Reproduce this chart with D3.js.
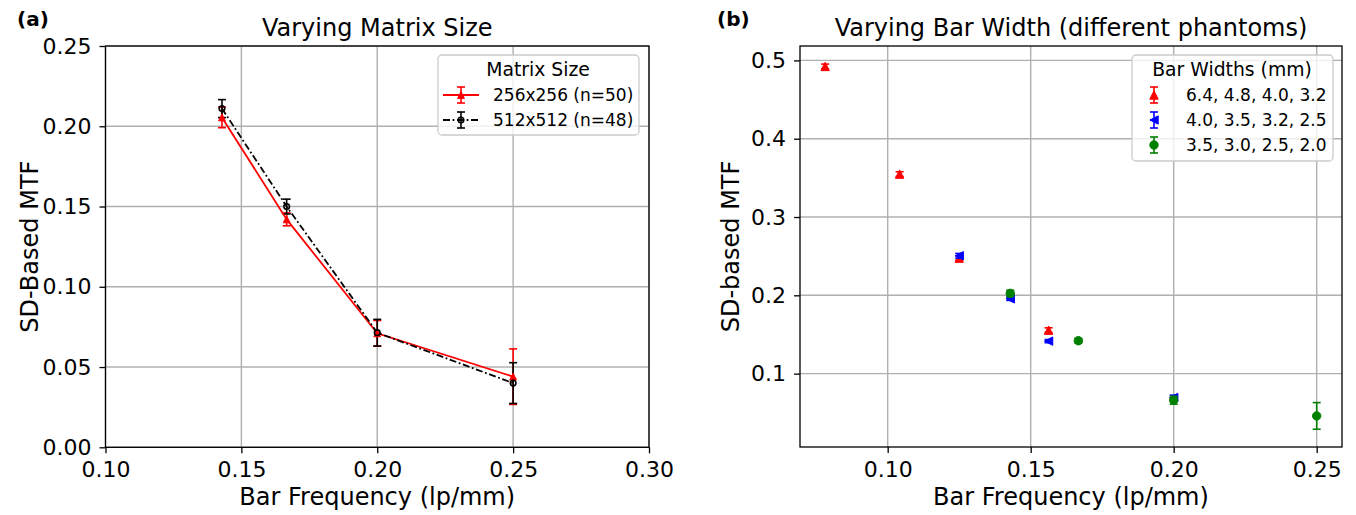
<!DOCTYPE html>
<html>
<head>
<meta charset="utf-8">
<script src="https://cdn.jsdelivr.net/npm/d3@7"></script>
<style>
  body { margin: 0; background: #fff; }
  svg { font-family: "DejaVu Sans", sans-serif; }
</style>
</head>
<body>
<div id="chart"></div>
<script>
// Panel (a): varying matrix size
var freqA = [1 / 7, 1 / 6, 0.2, 0.25];
var mtf256 = [0.2055, 0.142, 0.071, 0.044];
var err256 = [0.0064, 0.004, 0.008, 0.0173];
var mtf512 = [0.211, 0.150, 0.0714, 0.040];
var err512 = [0.0056, 0.0046, 0.0083, 0.0127];
var seriesA = ["256x256 (n=50)", "512x512 (n=48)"];
var xTicksA = [0.10, 0.15, 0.20, 0.25, 0.30];
var yTicksA = [0.00, 0.05, 0.10, 0.15, 0.20, 0.25];

// Panel (b): varying bar width, frequency = 1 / (2 * width)
var widthsRed = [6.4, 4.8, 4.0, 3.2];
var widthsBlue = [4.0, 3.5, 3.2, 2.5];
var widthsGreen = [3.5, 3.0, 2.5, 2.0];
var mtfRed = [0.4923, 0.3548, 0.2475, 0.1555];
var errRed = [0.003, 0.003, 0.003, 0.003];
var mtfBlue = [0.2505, 0.1955, 0.1415, 0.0695];
var errBlue = [0.003, 0.002, 0.002, 0.003];
var mtfGreen = [0.2025, 0.1420, 0.0660, 0.0460];
var errGreen = [0.004, 0.003, 0.005, 0.017];
var seriesB = ["6.4, 4.8, 4.0, 3.2", "4.0, 3.5, 3.2, 2.5", "3.5, 3.0, 2.5, 2.0"];
var xTicksB = [0.10, 0.15, 0.20, 0.25];
var yTicksB = [0.1, 0.2, 0.3, 0.4, 0.5];

var W = 1356, H = 515;
var tickFont = "22px", labelFont = "24px", legendFont = "17px", legendTitleFont = "18.8px";
var gridColor = "#b0b0b0";

var svg = d3.select("#chart").append("svg")
    .attr("width", W)
    .attr("height", H);

function toFreq(w) { return 1 / (2 * w); }

function buildPanel(opt) {
    var x = d3.scaleLinear().domain(opt.xDomain).range([opt.left, opt.right]);
    var y = d3.scaleLinear().domain(opt.yDomain).range([opt.bottom, opt.top]);
    var g = svg.append("g");

    // grid
    g.append("g").selectAll("line.gx")
        .data(opt.xTicks).enter().append("line")
        .attr("x1", d => x(d)).attr("x2", d => x(d))
        .attr("y1", opt.top).attr("y2", opt.bottom)
        .style("stroke", gridColor).style("stroke-width", 1.4);
    g.append("g").selectAll("line.gy")
        .data(opt.yTicks).enter().append("line")
        .attr("y1", d => y(d)).attr("y2", d => y(d))
        .attr("x1", opt.left).attr("x2", opt.right)
        .style("stroke", gridColor).style("stroke-width", 1.4);

    // axes
    var xa = g.append("g")
        .attr("transform", "translate(0," + opt.bottom + ")")
        .call(d3.axisBottom(x).tickValues(opt.xTicks).tickFormat(d3.format(opt.xFmt))
            .tickSize(6).tickSizeOuter(0).tickPadding(8));
    var ya = g.append("g")
        .attr("transform", "translate(" + opt.left + ",0)")
        .call(d3.axisLeft(y).tickValues(opt.yTicks).tickFormat(d3.format(opt.yFmt))
            .tickSize(6).tickSizeOuter(0).tickPadding(8));
    [xa, ya].forEach(function (a) {
        a.select(".domain").remove();
        a.selectAll("line").style("stroke", "#000").style("stroke-width", 1.3);
        a.selectAll("text").style("font-size", tickFont).style("fill", "#000")
            .attr("font-family", "DejaVu Sans");
    });

    // frame
    g.append("rect")
        .attr("x", opt.left).attr("y", opt.top)
        .attr("width", opt.right - opt.left).attr("height", opt.bottom - opt.top)
        .style("fill", "none").style("stroke", "#000").style("stroke-width", 1.3);

    // labels
    g.append("text")
        .attr("x", (opt.left + opt.right) / 2).attr("y", 36)
        .attr("text-anchor", "middle").style("font-size", labelFont)
        .text(opt.title);
    g.append("text")
        .attr("x", (opt.left + opt.right) / 2).attr("y", 505)
        .attr("text-anchor", "middle").style("font-size", labelFont)
        .text("Bar Frequency (lp/mm)");
    g.append("text")
        .attr("transform", "translate(" + opt.yLabelX + "," + (opt.top + opt.bottom) / 2 + ") rotate(-90)")
        .attr("text-anchor", "middle").style("font-size", labelFont)
        .text(opt.yLabel);
    g.append("text")
        .attr("x", opt.tagX).attr("y", 26)
        .style("font-size", "20px").style("font-weight", "bold")
        .text(opt.tag);

    return { g: g, x: x, y: y };
}

function errorBars(p, xs, ys, es, color, cap) {
    var pts = xs.map((d, i) => ({ x: d, y: ys[i], e: es[i] }));
    var eg = p.g.append("g").style("stroke", color).style("stroke-width", 1.6);
    eg.selectAll("line.v").data(pts).enter().append("line")
        .attr("x1", d => p.x(d.x)).attr("x2", d => p.x(d.x))
        .attr("y1", d => p.y(d.y - d.e)).attr("y2", d => p.y(d.y + d.e));
    eg.selectAll("line.t").data(pts).enter().append("line")
        .attr("x1", d => p.x(d.x) - cap).attr("x2", d => p.x(d.x) + cap)
        .attr("y1", d => p.y(d.y + d.e)).attr("y2", d => p.y(d.y + d.e));
    eg.selectAll("line.b").data(pts).enter().append("line")
        .attr("x1", d => p.x(d.x) - cap).attr("x2", d => p.x(d.x) + cap)
        .attr("y1", d => p.y(d.y - d.e)).attr("y2", d => p.y(d.y - d.e));
    return pts;
}

function triangle(dir, r) {
    if (dir === "up") return "M0," + (-r) + "L" + r + "," + r + "L" + (-r) + "," + r + "Z";
    return "M" + (-r) + ",0L" + r + "," + (-r) + "L" + r + "," + r + "Z";
}

function markers(g, pts, shape, color, r, hollow) {
    var sel = g.append("g").selectAll("path").data(pts).enter();
    if (shape === "circle") {
        sel.append("circle")
            .attr("cx", d => d.px).attr("cy", d => d.py).attr("r", r)
            .style("fill", hollow ? "none" : color)
            .style("stroke", color).style("stroke-width", hollow ? 1.6 : 1);
    } else {
        sel.append("path")
            .attr("d", triangle(shape, r))
            .attr("transform", d => "translate(" + d.px + "," + d.py + ")")
            .style("fill", color).style("stroke", color).style("stroke-width", 1);
    }
}

// ---------- panel (a) ----------
var pa = buildPanel({
    left: 105.5, right: 649, top: 46, bottom: 447.3,
    xDomain: [0.10, 0.30], yDomain: [0, 0.25],
    xTicks: xTicksA, yTicks: yTicksA, xFmt: ".2f", yFmt: ".2f",
    title: "Varying Matrix Size", yLabel: "SD-Based MTF", yLabelX: 38,
    tag: "(a)", tagX: 17
});

var line = d3.line().x(d => pa.x(d.x)).y(d => pa.y(d.y));
var pA1 = errorBars(pa, freqA, mtf256, err256, "#ff0000", 4);
var pA2 = errorBars(pa, freqA, mtf512, err512, "#000000", 4);
pa.g.append("path").datum(pA1).attr("d", line)
    .style("fill", "none").style("stroke", "#ff0000").style("stroke-width", 1.8);
pa.g.append("path").datum(pA2).attr("d", line)
    .style("fill", "none").style("stroke", "#000").style("stroke-width", 1.8)
    .style("stroke-dasharray", "7,2.6,1.8,2.6");
pA1.forEach(d => { d.px = pa.x(d.x); d.py = pa.y(d.y); });
pA2.forEach(d => { d.px = pa.x(d.x); d.py = pa.y(d.y); });
markers(pa.g, pA1, "up", "#ff0000", 3.4);
markers(pa.g, pA2, "circle", "#000", 2.8, true);

// legend (a)
var lga = pa.g.append("g");
lga.append("rect").attr("x", 438).attr("y", 55).attr("width", 201).attr("height", 80)
    .attr("rx", 4).style("fill", "#fff").style("fill-opacity", 0.8)
    .style("stroke", "#cccccc").style("stroke-width", 1.3);
lga.append("text").attr("x", 538).attr("y", 76).attr("text-anchor", "middle")
    .style("font-size", legendTitleFont).text("Matrix Size");
var legA = [
    { name: seriesA[0], color: "#ff0000", dash: null, shape: "up", y: 95 },
    { name: seriesA[1], color: "#000", dash: "7,2.6,1.8,2.6", shape: "circle", y: 120 }
];
legA.forEach(function (s) {
    lga.append("line").attr("x1", 443).attr("x2", 479).attr("y1", s.y).attr("y2", s.y)
        .style("stroke", s.color).style("stroke-width", 1.8)
        .style("stroke-dasharray", s.dash);
    var eb = lga.append("g").style("stroke", s.color).style("stroke-width", 1.6);
    eb.append("line").attr("x1", 461).attr("x2", 461).attr("y1", s.y - 8).attr("y2", s.y + 8);
    eb.append("line").attr("x1", 457).attr("x2", 465).attr("y1", s.y - 8).attr("y2", s.y - 8);
    eb.append("line").attr("x1", 457).attr("x2", 465).attr("y1", s.y + 8).attr("y2", s.y + 8);
    markers(lga, [{ px: 461, py: s.y }], s.shape, s.color, s.shape === "circle" ? 2.8 : 3.4, s.shape === "circle");
    lga.append("text").attr("x", 493).attr("y", s.y + 6)
        .style("font-size", legendFont).text(s.name);
});

// ---------- panel (b) ----------
var pb = buildPanel({
    left: 800, right: 1342, top: 46, bottom: 447,
    xDomain: [0.06934, 0.25885], yDomain: [0.0063, 0.5184],
    xTicks: xTicksB, yTicks: yTicksB, xFmt: ".2f", yFmt: ".1f",
    title: "Varying Bar Width (different phantoms)", yLabel: "SD-based MTF", yLabelX: 739,
    tag: "(b)", tagX: 717
});

var groupsB = [
    { widths: widthsRed, vals: mtfRed, errs: errRed, color: "#ff0000", shape: "up" },
    { widths: widthsBlue, vals: mtfBlue, errs: errBlue, color: "#0000ff", shape: "left" },
    { widths: widthsGreen, vals: mtfGreen, errs: errGreen, color: "#008000", shape: "circle" }
];
groupsB.forEach(function (gr) {
    var pts = errorBars(pb, gr.widths.map(toFreq), gr.vals, gr.errs, gr.color, 4);
    pts.forEach(d => { d.px = pb.x(d.x); d.py = pb.y(d.y); });
    markers(pb.g, pts, gr.shape, gr.color, 4.2);
});

// legend (b)
var lgb = pb.g.append("g");
lgb.append("rect").attr("x", 1132).attr("y", 55).attr("width", 201).attr("height", 106)
    .attr("rx", 4).style("fill", "#fff").style("fill-opacity", 0.8)
    .style("stroke", "#cccccc").style("stroke-width", 1.3);
lgb.append("text").attr("x", 1232).attr("y", 76).attr("text-anchor", "middle")
    .style("font-size", legendTitleFont).text("Bar Widths (mm)");
groupsB.forEach(function (gr, i) {
    var yy = 95 + i * 25;
    var eb = lgb.append("g").style("stroke", gr.color).style("stroke-width", 1.6);
    eb.append("line").attr("x1", 1154).attr("x2", 1154).attr("y1", yy - 8).attr("y2", yy + 8);
    eb.append("line").attr("x1", 1150).attr("x2", 1158).attr("y1", yy - 8).attr("y2", yy - 8);
    eb.append("line").attr("x1", 1150).attr("x2", 1158).attr("y1", yy + 8).attr("y2", yy + 8);
    markers(lgb, [{ px: 1154, py: yy }], gr.shape, gr.color, 4.2);
    lgb.append("text").attr("x", 1186).attr("y", yy + 6)
        .style("font-size", legendFont).text(seriesB[i]);
});
</script>
</body>
</html>
